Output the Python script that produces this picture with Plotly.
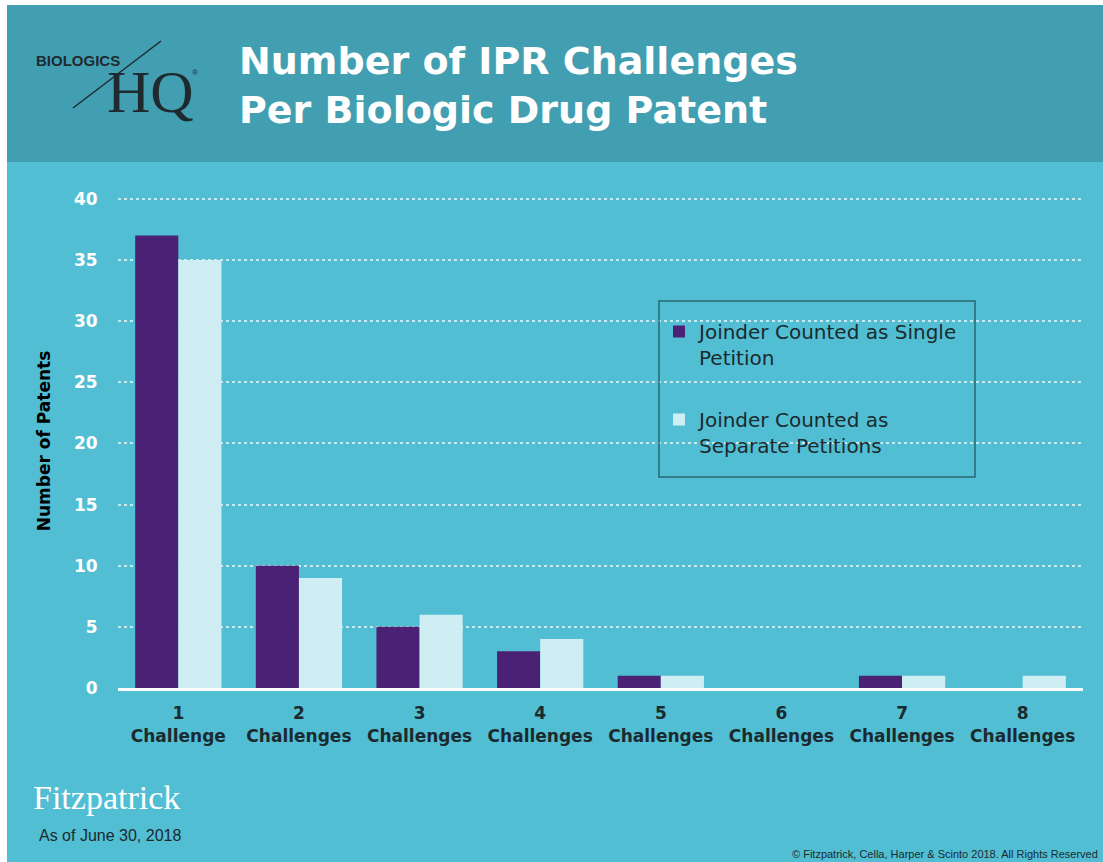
import plotly.graph_objects as go

categories = ["1<br>Challenge", "2<br>Challenges", "3<br>Challenges", "4<br>Challenges",
              "5<br>Challenges", "6<br>Challenges", "7<br>Challenges", "8<br>Challenges"]
single_petition = [37, 10, 5, 3, 1, 0, 1, 0]
separate_petitions = [35, 9, 6, 4, 1, 0, 1, 1]
y_ticks = [0, 5, 10, 15, 20, 25, 30, 35, 40]

W, H = 1103, 862
YMAX = 40.4
PX_PER_UNIT = (688 - 199) / 40.0
L, R = 118, 20
B = H - 688
T = int(round(688 - YMAX * PX_PER_UNIT))
BODY = "#52BED3"
HEADER = "#429FB2"
PURPLE = "#4B2176"
LIGHT = "#CFEEF3"
DARK = "#1B2A2E"
SANS = "DejaVu Sans, Verdana, sans-serif"
ARIAL = "Liberation Sans, Arial, sans-serif"
SERIF = "Liberation Serif, Times New Roman, serif"

fig = go.Figure()
fig.add_trace(go.Bar(x=categories, y=single_petition, name="Joinder Counted as Single<br>Petition",
                     marker=dict(color=PURPLE, line=dict(width=0)), legendgroup="a"))
fig.add_trace(go.Bar(x=categories, y=separate_petitions, name="Joinder Counted as<br>Separate Petitions",
                     marker=dict(color=LIGHT, line=dict(width=0)), legendgroup="b"))

PW, PH = W - L - R, H - T - B
def rx(p):
    return (p - L) / PW
def ry(p):
    return (H - B - p) / PH

shapes = [
    dict(type="rect", xref="paper", yref="paper", x0=rx(0), x1=rx(7), y0=ry(H), y1=ry(0),
         fillcolor="white", line=dict(width=0), layer="below"),
    dict(type="rect", xref="paper", yref="paper", x0=rx(0), x1=rx(W), y0=ry(5), y1=ry(0),
         fillcolor="white", line=dict(width=0), layer="below"),
    dict(type="rect", xref="paper", yref="paper", x0=rx(7), x1=rx(W), y0=ry(162), y1=ry(5),
         fillcolor=HEADER, line=dict(width=0), layer="below"),
    dict(type="rect", xref="paper", yref="paper", x0=rx(659), x1=rx(975), y0=ry(477), y1=ry(301),
         fillcolor="rgba(0,0,0,0)", line=dict(color="#2A6874", width=1.5)),
    dict(type="line", xref="paper", yref="paper", x0=rx(73), x1=rx(161), y0=ry(108), y1=ry(41),
         line=dict(color="#1E2A2E", width=1.5)),
]

annotations = [
    dict(text="Number of IPR Challenges<br>Per Biologic Drug Patent", xref="paper", yref="paper",
         x=rx(237), y=ry(86), xanchor="left", yanchor="middle", align="left", showarrow=False,
         font=dict(family=SANS, size=38, color="white", weight="bold")),
    dict(text="BIOLOGICS", xref="paper", yref="paper", x=rx(34), y=ry(60), xanchor="left",
         yanchor="middle", showarrow=False,
         font=dict(family=ARIAL, size=15, color="#1E2A2E", weight="bold")),
    dict(text="HQ", xref="paper", yref="paper", x=rx(105), y=ry(92), xanchor="left",
         yanchor="middle", showarrow=False,
         font=dict(family=SERIF, size=60, color="#1E2A2E")),
    dict(text="®", xref="paper", yref="paper", x=rx(190), y=ry(72), xanchor="left",
         yanchor="middle", showarrow=False,
         font=dict(family=ARIAL, size=8, color="#1E2A2E")),
    dict(text="Fitzpatrick", xref="paper", yref="paper", x=rx(31), y=ry(797), xanchor="left",
         yanchor="middle", showarrow=False,
         font=dict(family=SERIF, size=34, color="white")),
    dict(text="As of June 30, 2018", xref="paper", yref="paper", x=rx(37), y=ry(835), xanchor="left",
         yanchor="middle", showarrow=False,
         font=dict(family=ARIAL, size=16, color="#1B2A2E")),
    dict(text="© Fitzpatrick, Cella, Harper & Scinto 2018. All Rights Reserved", xref="paper", yref="paper",
         x=rx(1100), y=ry(854), xanchor="right", yanchor="middle", showarrow=False,
         font=dict(family=ARIAL, size=11, color="#1B2A2E")),
]

fig.update_layout(
    width=W, height=H,
    margin=dict(l=L, r=R, t=T, b=B, pad=0),
    paper_bgcolor=BODY, plot_bgcolor=BODY,
    barmode="group", bargap=0.285, bargroupgap=0,
    shapes=shapes, annotations=annotations,
    showlegend=True,
    legend=dict(x=rx(659), y=ry(312), xanchor="left", yanchor="top",
                bgcolor="rgba(0,0,0,0)", borderwidth=0, valign="top",
                font=dict(family=SANS, size=20, color=DARK),
                tracegroupgap=33, itemsizing="constant", traceorder="grouped",
                itemwidth=30),
    xaxis=dict(showgrid=False, showline=True, linecolor="white", linewidth=3,
               tickfont=dict(family=SANS, size=17, color=DARK, weight="bold"),
               ticks="outside", ticklen=8, tickcolor="rgba(0,0,0,0)", fixedrange=True),
    yaxis=dict(range=[0, YMAX], tickvals=y_ticks, showgrid=True, gridcolor="rgba(235,250,252,0.75)",
               griddash="dot", gridwidth=1.5, zeroline=False, showline=False, fixedrange=True,
               tickfont=dict(family=SANS, size=17, color="white", weight="bold"),
               ticks="outside", ticklen=16, tickcolor="rgba(0,0,0,0)",
               title=dict(text="Number of Patents", standoff=18,
                          font=dict(family=SANS, size=17, color="black", weight="bold"))),
    font=dict(family=SANS),
)

fig.write_html("out.html", post_script="document.body.style.margin='0';",
               config={"displayModeBar": False})
